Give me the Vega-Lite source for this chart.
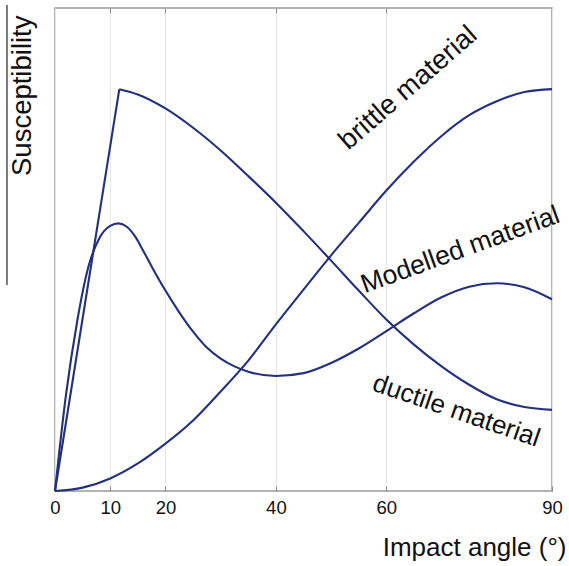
{
  "$schema": "https://vega.github.io/schema/vega-lite/v6.json",
  "width": 497,
  "height": 483,
  "autosize": {"type": "none"},
  "padding": {"left": 55, "top": 8, "right": 17, "bottom": 75},
  "background": "white",
  "config": {
    "font": "Liberation Sans",
    "view": {"stroke": "#9a9a9a", "strokeWidth": 1.5},
    "axis": {"labelFont": "Liberation Sans", "titleFont": "Liberation Sans", "titleFontWeight": "normal", "labelColor": "#111", "titleColor": "#111"}
  },
  "resolve": {"axis": {"x": "independent", "y": "independent"}},
  "datasets": {
    "curves": [
      {"s": "ductile_up", "x": 0, "y": 0},
      {"s": "ductile_up", "x": 11.65, "y": 0.832},
      {"s": "ductile", "x": 11.65, "y": 0.832},
      {"s": "ductile", "x": 15, "y": 0.821},
      {"s": "ductile", "x": 20, "y": 0.792},
      {"s": "ductile", "x": 25, "y": 0.752},
      {"s": "ductile", "x": 30, "y": 0.705},
      {"s": "ductile", "x": 35, "y": 0.652},
      {"s": "ductile", "x": 40, "y": 0.597},
      {"s": "ductile", "x": 45, "y": 0.538},
      {"s": "ductile", "x": 50, "y": 0.477},
      {"s": "ductile", "x": 55, "y": 0.415},
      {"s": "ductile", "x": 60, "y": 0.355},
      {"s": "ductile", "x": 65, "y": 0.303},
      {"s": "ductile", "x": 70, "y": 0.258},
      {"s": "ductile", "x": 75, "y": 0.22},
      {"s": "ductile", "x": 80, "y": 0.19},
      {"s": "ductile", "x": 85, "y": 0.174},
      {"s": "ductile", "x": 90, "y": 0.168},
      {"s": "modelled", "x": 0, "y": 0},
      {"s": "modelled", "x": 2, "y": 0.2},
      {"s": "modelled", "x": 4, "y": 0.35},
      {"s": "modelled", "x": 6, "y": 0.462},
      {"s": "modelled", "x": 8, "y": 0.523},
      {"s": "modelled", "x": 10, "y": 0.549},
      {"s": "modelled", "x": 11.5, "y": 0.554},
      {"s": "modelled", "x": 13, "y": 0.547},
      {"s": "modelled", "x": 14.5, "y": 0.527},
      {"s": "modelled", "x": 16, "y": 0.497},
      {"s": "modelled", "x": 17.5, "y": 0.465},
      {"s": "modelled", "x": 20, "y": 0.415},
      {"s": "modelled", "x": 22.5, "y": 0.37},
      {"s": "modelled", "x": 25, "y": 0.33},
      {"s": "modelled", "x": 27.5, "y": 0.297},
      {"s": "modelled", "x": 30, "y": 0.274},
      {"s": "modelled", "x": 32.5, "y": 0.258},
      {"s": "modelled", "x": 35, "y": 0.247},
      {"s": "modelled", "x": 40, "y": 0.238},
      {"s": "modelled", "x": 45, "y": 0.244},
      {"s": "modelled", "x": 50, "y": 0.265},
      {"s": "modelled", "x": 55, "y": 0.295},
      {"s": "modelled", "x": 60, "y": 0.331},
      {"s": "modelled", "x": 65, "y": 0.368},
      {"s": "modelled", "x": 70, "y": 0.401},
      {"s": "modelled", "x": 75, "y": 0.423},
      {"s": "modelled", "x": 80, "y": 0.43},
      {"s": "modelled", "x": 85, "y": 0.422},
      {"s": "modelled", "x": 90, "y": 0.397},
      {"s": "brittle", "x": 0, "y": 0},
      {"s": "brittle", "x": 5, "y": 0.007},
      {"s": "brittle", "x": 10, "y": 0.026},
      {"s": "brittle", "x": 15, "y": 0.057},
      {"s": "brittle", "x": 20, "y": 0.098},
      {"s": "brittle", "x": 25, "y": 0.146},
      {"s": "brittle", "x": 30, "y": 0.206},
      {"s": "brittle", "x": 35, "y": 0.27},
      {"s": "brittle", "x": 40, "y": 0.345},
      {"s": "brittle", "x": 45, "y": 0.417},
      {"s": "brittle", "x": 50, "y": 0.488},
      {"s": "brittle", "x": 55, "y": 0.555},
      {"s": "brittle", "x": 60, "y": 0.622},
      {"s": "brittle", "x": 65, "y": 0.682},
      {"s": "brittle", "x": 70, "y": 0.735},
      {"s": "brittle", "x": 75, "y": 0.778},
      {"s": "brittle", "x": 80, "y": 0.807},
      {"s": "brittle", "x": 85, "y": 0.826},
      {"s": "brittle", "x": 90, "y": 0.832}
    ],
    "labels": [
      {"name": "brittle", "text": "brittle material", "x": 63.97, "y": 0.834},
      {"name": "modelled", "text": "Modelled material", "x": 73.4, "y": 0.499},
      {"name": "ductile", "text": "ductile material", "x": 72.67, "y": 0.166}
    ],
    "edge": [
      {"x": -8.7, "y": 0.4265, "y2": 1.006}
    ]
  },
  "layer": [
    {
      "data": {"name": "curves"},
      "mark": {"type": "line", "interpolate": "monotone", "color": "#22307f", "strokeWidth": 2.1},
      "encoding": {
        "x": {"field": "x", "type": "quantitative", "scale": {"domain": [0, 90], "nice": false},
          "axis": {"values": [0, 10, 20, 40, 60, 90], "grid": true, "gridColor": "#e6e6e6", "gridWidth": 1, "domain": false, "tickColor": "#888", "tickSize": -5, "labelFontSize": 18.5, "labelPadding": 12, "labelFlush": false, "title": "Impact angle (°)", "titleFontSize": 26, "titleAlign": "right", "titleBaseline": "alphabetic", "titleX": 511, "titleY": 64}},
        "y": {"field": "y", "type": "quantitative", "scale": {"domain": [0, 1], "nice": false},
          "axis": {"labels": false, "ticks": false, "grid": false, "domain": false, "title": "Susceptibility", "titleFontSize": 27.5, "titleAngle": -90, "titleAlign": "right", "titleBaseline": "middle", "titleX": -33, "titleY": 7}},
        "detail": {"field": "s"}
      }
    },
    {
      "data": {"name": "edge"},
      "mark": {"type": "rule", "color": "#222", "strokeWidth": 1.2, "clip": false},
      "encoding": {
        "x": {"field": "x", "type": "quantitative",
          "axis": {"orient": "top", "values": [10, 20, 40, 60], "labels": false, "grid": false, "domain": false, "tickColor": "#888", "tickSize": -5, "title": null}},
        "y": {"field": "y", "type": "quantitative", "axis": null},
        "y2": {"field": "y2"}
      }
    },
    {
      "data": {"name": "labels"},
      "transform": [{"filter": "datum.name === 'brittle'"}],
      "mark": {"type": "text", "fontSize": 27.5, "angle": -41, "align": "center", "baseline": "middle", "color": "#111", "font": "Liberation Sans"},
      "encoding": {
        "x": {"field": "x", "type": "quantitative", "axis": null},
        "y": {"field": "y", "type": "quantitative", "axis": null},
        "text": {"field": "text"}
      }
    },
    {
      "data": {"name": "labels"},
      "transform": [{"filter": "datum.name === 'modelled'"}],
      "mark": {"type": "text", "fontSize": 26.5, "angle": -20, "align": "center", "baseline": "middle", "color": "#111", "font": "Liberation Sans"},
      "encoding": {
        "x": {"field": "x", "type": "quantitative", "axis": null},
        "y": {"field": "y", "type": "quantitative", "axis": null},
        "text": {"field": "text"}
      }
    },
    {
      "data": {"name": "labels"},
      "transform": [{"filter": "datum.name === 'ductile'"}],
      "mark": {"type": "text", "fontSize": 26, "angle": 19, "align": "center", "baseline": "middle", "color": "#111", "font": "Liberation Sans"},
      "encoding": {
        "x": {"field": "x", "type": "quantitative", "axis": null},
        "y": {"field": "y", "type": "quantitative", "axis": null},
        "text": {"field": "text"}
      }
    }
  ]
}
